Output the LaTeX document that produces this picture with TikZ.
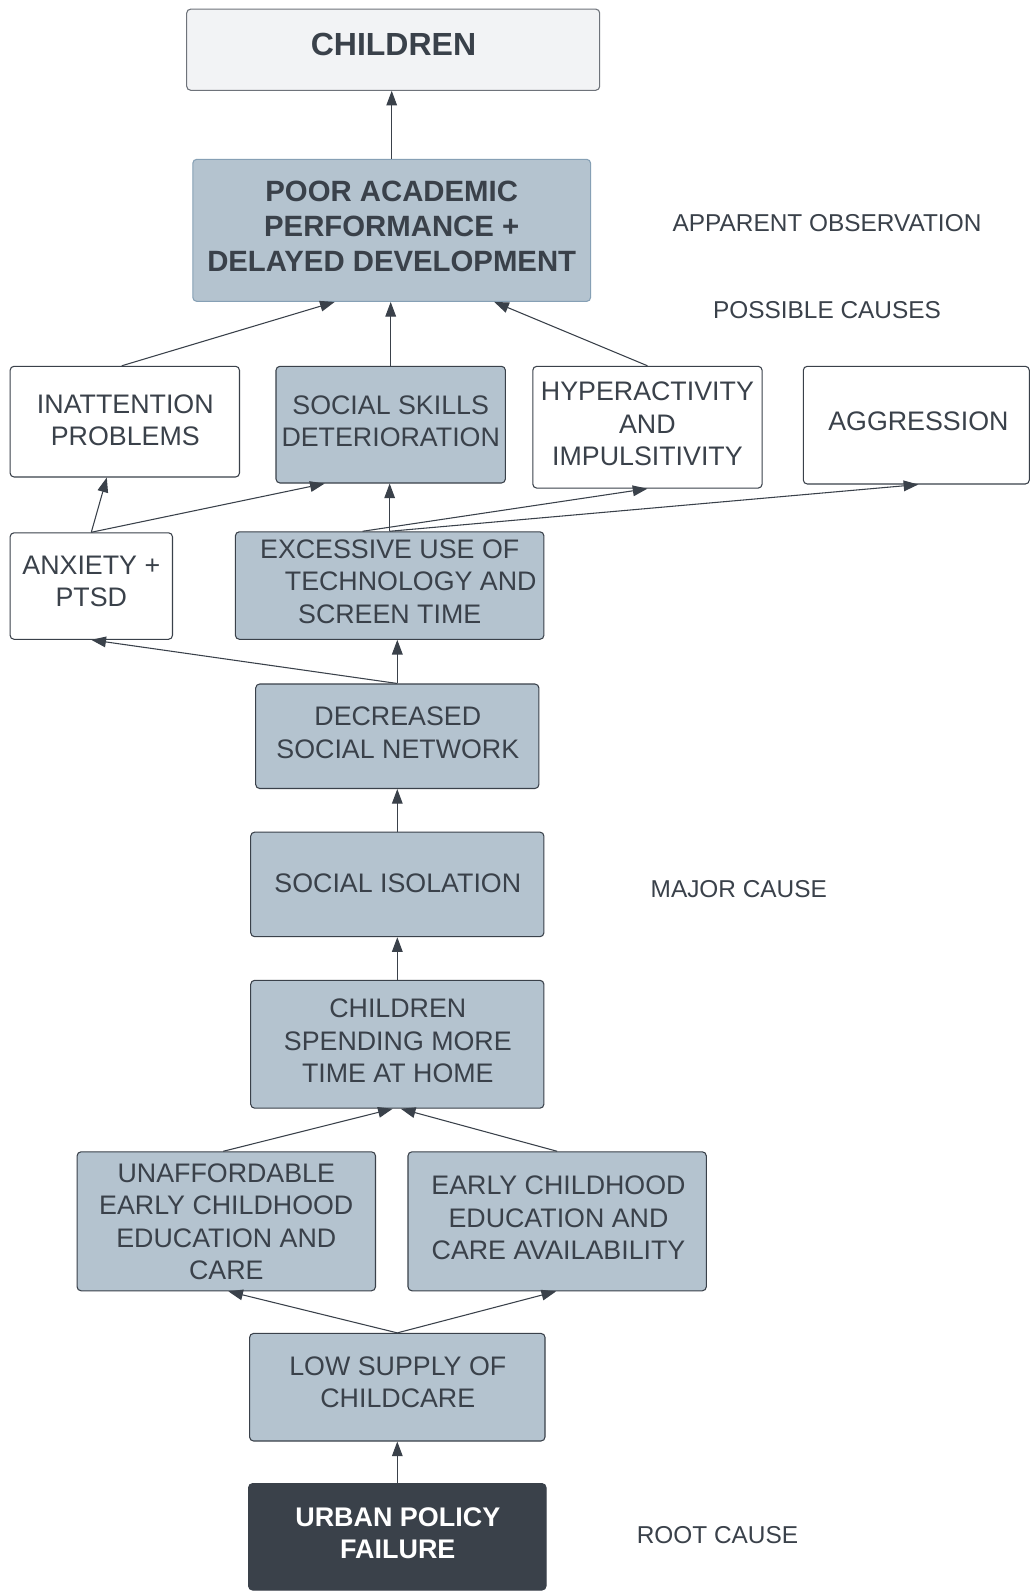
\documentclass[tikz,border=0pt]{standalone}
\usepackage{fontspec}
\setmainfont{Liberation Sans}
\usetikzlibrary{arrows.meta,calc,fit}
\definecolor{ink}{HTML}{3A414A}
\definecolor{steel}{HTML}{B4C3CF}
\definecolor{steeledge}{HTML}{86A0B5}
\definecolor{paper}{HTML}{F2F3F5}
\definecolor{paperedge}{HTML}{6E737A}
\begin{document}
\begin{tikzpicture}[x=0.75pt,y=-0.75pt,
  box/.style={draw=ink, line width=0.8pt, rounded corners=3pt, inner sep=0pt},
  bluebox/.style={box, fill=steel},
  whitebox/.style={box, fill=white},
  txt/.style={text=ink, align=center, inner sep=0pt, font=\fontsize{20.1}{24.4}\selectfont},
  note/.style={text=ink, inner sep=0pt, font=\fontsize{18.3}{22}\selectfont},
  link/.style={draw=ink, line width=0.8pt, -{Triangle[length=11pt,width=8pt]}},
]
\useasboundingbox (0,0) rectangle (1030,1591);
\fill[white] (0,0) rectangle (1030,1591);

% --- boxes ---
\node[box, draw=paperedge, fill=paper, fit={(186.7,9.1) (599.7,90.3)}] (children) {};
\node[box, draw=steeledge, fill=steel, fit={(192.8,159.3) (590.6,301.4)}] (poor) {};
\node[whitebox, fit={(10.1,366.3) (239.5,477)}] (inatt) {};
\node[bluebox, fit={(276,366.3) (505.4,483)}] (skills) {};
\node[whitebox, fit={(532.8,366.3) (762.1,488.1)}] (hyper) {};
\node[whitebox, fit={(803.3,366.3) (1029.3,484)}] (aggr) {};
\node[whitebox, fit={(10.1,532.8) (172.5,639.3)}] (anx) {};
\node[bluebox, fit={(235.4,531.8) (543.9,639.3)}] (exc) {};
\node[bluebox, fit={(255.7,684) (538.9,788.5)}] (dec) {};
\node[bluebox, fit={(250.7,832.1) (543.9,936.7)}] (iso) {};
\node[bluebox, fit={(250.7,980.3) (543.9,1108.2)}] (spend) {};
\node[bluebox, fit={(77.1,1151.8) (375.5,1290.8)}] (unaff) {};
\node[bluebox, fit={(408,1151.8) (706.3,1290.8)}] (early) {};
\node[bluebox, fit={(249.6,1333.4) (545,1441)}] (low) {};
\node[box, fill=ink, fit={(248.6,1483.6) (546,1590)}] (urban) {};

% --- box texts ---
\node[txt, font=\bfseries\fontsize{24}{28}\selectfont] (childrenT) at (393.5,44.7) {CHILDREN};
\node[txt, font=\bfseries\fontsize{22}{26.3}\selectfont] (poorT) at (391.7,226.8)
  {POOR ACADEMIC\\PERFORMANCE +\\DELAYED DEVELOPMENT};
\node[txt] (inattT) at (125.3,420.1) {INATTENTION\\PROBLEMS};
\node[txt] (skillsT) at (390.7,421.1) {SOCIAL SKILLS\\DETERIORATION};
\node[txt] (hyperT) at (647.4,424.2) {HYPERACTIVITY\\AND\\IMPULSITIVITY};
\node[txt] (aggrT) at (918.4,421.1) {AGGRESSION};
\node[txt] (anxT) at (91.3,581.5) {ANXIETY +\\PTSD};
\node[txt] (excT) at (389.7,581.5) {EXCESSIVE USE OF\\\hspace*{31.5pt}TECHNOLOGY AND\\SCREEN TIME};
\node[txt] (decT) at (397.8,732.7) {DECREASED\\SOCIAL NETWORK};
\node[txt] (isoT) at (397.8,882.9) {SOCIAL ISOLATION};
\node[txt] (spendT) at (397.8,1041.2) {CHILDREN\\SPENDING MORE\\TIME AT HOME};
\node[txt] (unaffT) at (226.3,1221.8) {UNAFFORDABLE\\EARLY CHILDHOOD\\EDUCATION AND\\CARE};
\node[txt] (earlyT) at (558.5,1217.8) {EARLY CHILDHOOD\\EDUCATION AND\\CARE AVAILABILITY};
\node[txt] (lowT) at (397.8,1382.2) {LOW SUPPLY OF\\CHILDCARE};
\node[txt, text=white, font=\bfseries\fontsize{20.2}{24.4}\selectfont] (urbanT) at (397.8,1533.4)
  {URBAN POLICY\\FAILURE};

% --- side labels ---
\node[note] (lblObs) at (827,223.3) {APPARENT OBSERVATION};
\node[note] (lblPoss) at (827,310.5) {POSSIBLE CAUSES};
\node[note] (lblMajor) at (738.8,889) {MAJOR CAUSE};
\node[note] (lblRoot) at (717.5,1535.4) {ROOT CAUSE};

% --- connectors ---
\draw[link] (poor.north) -- (poor.north |- children.south);
\draw[link] ($(inatt.north)+(-3,0)$) -- ($(poor.south)+(-57,0)$);
\draw[link] (skills.north) -- (skills.north |- poor.south);
\draw[link] (hyper.north) -- ($(poor.south)+(102.5,0)$);
\draw[link] (anx.north) -- ($(inatt.south)+(-18,0)$);
\draw[link] (anx.north) -- ($(skills.south)+(-66,0)$);
\draw[link] (exc.north) -- (exc.north |- skills.south);
\draw[link] ($(exc.north)+(-27,0)$) -- (hyper.south);
\draw[link] (exc.north) -- ($(aggr.south)+(2,0)$);
\draw[link] (dec.north) -- (dec.north |- exc.south);
\draw[link] (dec.north) -- (anx.south);
\draw[link] (iso.north) -- (dec.south);
\draw[link] (spend.north) -- (iso.south);
\draw[link] ($(unaff.north)+(-3,0)$) -- ($(spend.south)+(-4.6,0)$);
\draw[link] (early.north) -- ($(spend.south)+(3.5,0)$);
\draw[link] (low.north) -- ($(unaff.south)+(2,0)$);
\draw[link] (low.north) -- ($(early.south)+(-1,0)$);
\draw[link] (urban.north) -- (low.south);
\end{tikzpicture}
\end{document}
